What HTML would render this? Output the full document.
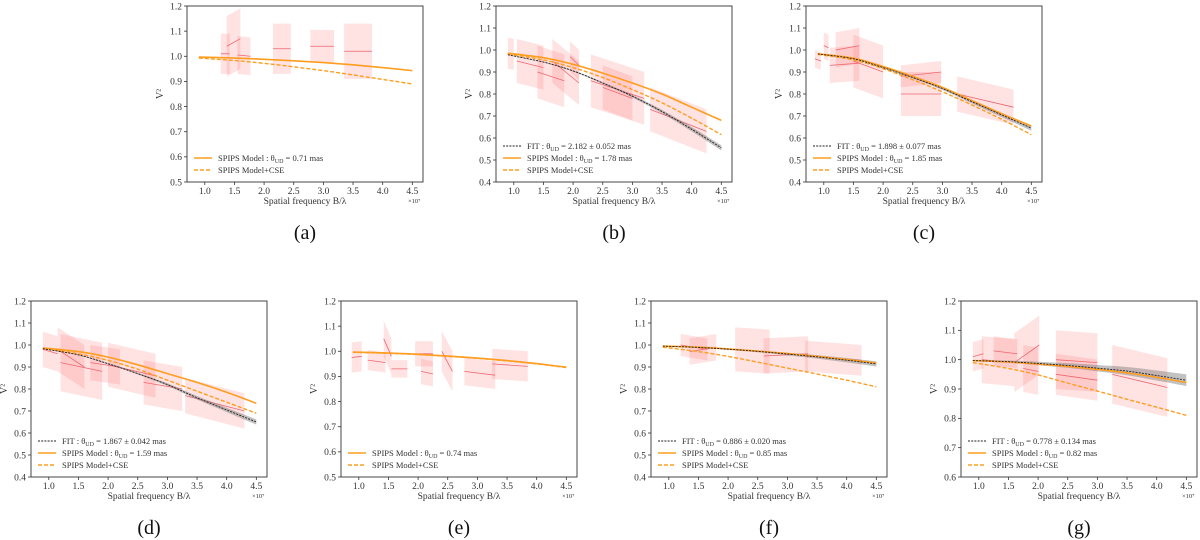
<!DOCTYPE html>
<html><head><meta charset="utf-8"><style>
html,body{margin:0;padding:0;background:#fff;}
svg{display:block;font-family:"Liberation Serif",serif;}
</style></head><body>
<svg id="fig" width="1200" height="540" viewBox="0 0 1200 540" xmlns="http://www.w3.org/2000/svg"></svg>
<script>
const xGrid=[0.9,1.5,2.0,2.5,3.0,3.5,4.0,4.5];
const xTicks=[1.0,1.5,2.0,2.5,3.0,3.5,4.0,4.5];
const panelLetters=["a","b","c","d","e","f","g"];
const yMins=[0.5,0.4,0.4,0.4,0.5,0.4,0.6];
const modelA=[0.997,0.993,0.988,0.982,0.975,0.966,0.955,0.943];
const cseA=[0.993,0.983,0.972,0.958,0.943,0.926,0.908,0.890];
const modelB=[0.985,0.965,0.935,0.895,0.85,0.80,0.74,0.68];
const cseB=[0.982,0.955,0.92,0.875,0.82,0.76,0.69,0.615];
const fitB=[0.978,0.945,0.905,0.85,0.79,0.72,0.64,0.555];
const modelC=[0.983,0.963,0.925,0.88,0.83,0.77,0.71,0.655];
const cseC=[0.98,0.955,0.915,0.865,0.81,0.75,0.685,0.615];
const fitC=[0.982,0.96,0.92,0.875,0.825,0.765,0.705,0.645];
const modelD=[0.987,0.97,0.945,0.91,0.87,0.83,0.785,0.735];
const cseD=[0.985,0.96,0.93,0.89,0.84,0.79,0.74,0.69];
const fitD=[0.983,0.955,0.915,0.87,0.82,0.76,0.705,0.65];
const modelE=[0.997,0.993,0.988,0.981,0.973,0.963,0.951,0.937];
const cseE=[0.996,0.992,0.987,0.980,0.972,0.962,0.950,0.935];
const modelF=[0.995,0.99,0.982,0.972,0.961,0.948,0.934,0.918];
const cseF=[0.99,0.97,0.948,0.922,0.895,0.868,0.84,0.81];
const fitF=[0.995,0.989,0.981,0.971,0.959,0.946,0.931,0.914];
const modelG=[0.997,0.992,0.985,0.977,0.967,0.955,0.94,0.922];
const cseG=[0.99,0.97,0.948,0.92,0.893,0.865,0.838,0.81];
const fitG=[0.997,0.993,0.987,0.98,0.971,0.961,0.946,0.93];
const fitErrG=[0.002,0.004,0.006,0.008,0.011,0.014,0.017,0.02];
const fitErrSmall=[0.001,0.002,0.003,0.004,0.006,0.008,0.010,0.012];
// segments: [x0,x1,v0,v1,halfErr]
const obsA=[[1.27,1.42,1.01,1.01,0.08],[1.37,1.6,1.04,1.07,0.12],[1.55,1.77,1.005,1.0,0.075],[2.15,2.45,1.03,1.03,0.1],[2.78,3.18,1.04,1.04,0.065],[3.35,3.82,1.02,1.02,0.11]];
const obsB=[[0.9,1.0,0.985,0.98,0.07],[1.05,1.5,0.95,0.92,0.1],[1.4,1.85,0.9,0.86,0.12],[1.65,2.1,0.95,0.85,0.1],[1.95,2.1,0.97,0.93,0.07],[2.3,3.2,0.86,0.78,0.12],[2.5,3.0,0.83,0.78,0.1],[3.3,4.25,0.73,0.63,0.1]];
const obsC=[[0.85,0.95,0.96,0.95,0.04],[1.0,1.08,1.02,1.01,0.06],[1.1,1.6,0.93,0.94,0.08],[1.2,1.6,1.0,1.02,0.08],[1.5,2.0,0.95,0.9,0.12],[2.3,2.98,0.88,0.9,0.05],[2.3,2.98,0.8,0.8,0.1],[3.25,4.2,0.8,0.74,0.08]];
const obsD=[[0.9,1.15,0.98,0.96,0.08],[1.15,1.6,0.98,0.9,0.1],[1.2,1.9,0.92,0.88,0.13],[1.7,2.2,0.92,0.9,0.08],[2.0,2.8,0.91,0.86,0.1],[2.6,3.25,0.83,0.8,0.1],[3.3,4.3,0.77,0.7,0.08]];
const obsE=[[0.88,1.05,0.975,0.98,0.06],[1.15,1.45,0.965,0.955,0.04],[1.42,1.55,1.05,0.98,0.07],[1.55,1.82,0.93,0.93,0.035],[1.95,2.25,0.99,0.99,0.05],[2.05,2.25,0.92,0.91,0.05],[2.4,2.58,1.0,0.92,0.08],[2.78,3.3,0.92,0.905,0.055],[3.25,3.85,0.95,0.94,0.06]];
const obsF=[[1.2,1.65,1.0,0.98,0.05],[1.35,1.8,0.97,0.99,0.06],[2.12,2.7,0.98,0.97,0.1],[2.6,3.35,0.95,0.96,0.08],[3.3,4.25,0.95,0.93,0.07]];
const obsG=[[0.9,1.08,1.01,1.02,0.05],[1.05,1.6,1.0,0.99,0.08],[1.25,1.65,1.03,1.02,0.05],[1.6,2.02,0.99,1.05,0.1],[1.75,2.0,0.97,0.96,0.08],[2.3,3.0,1.0,0.99,0.1],[2.3,3.0,0.95,0.93,0.07],[3.25,4.18,0.95,0.905,0.1]];
const fitLabels=[null,"2.182 ± 0.052","1.898 ± 0.077","1.867 ± 0.042",null,"0.886 ± 0.020","0.778 ± 0.134"];
const modelLabels=["0.71","1.78","1.85","1.59","0.74","0.85","0.82"];

const boxes=[[187,6],[496,6],[806,6],[31,301],[341,301],[651,301],[961,301]];
const W=236,H=176;
const panels=[
 {m:modelA,c:cseA,f:null,fe:null,o:obsA},
 {m:modelB,c:cseB,f:fitB,fe:fitErrSmall,o:obsB},
 {m:modelC,c:cseC,f:fitC,fe:fitErrSmall,o:obsC},
 {m:modelD,c:cseD,f:fitD,fe:fitErrSmall,o:obsD},
 {m:modelE,c:cseE,f:null,fe:null,o:obsE},
 {m:modelF,c:cseF,f:fitF,fe:fitErrSmall,o:obsF},
 {m:modelG,c:cseG,f:fitG,fe:fitErrG,o:obsG}];
const NS="http://www.w3.org/2000/svg";
const svg=document.getElementById('fig');
function mk(tag,attrs,parent,txt){const e=document.createElementNS(NS,tag);for(const k in attrs)e.setAttribute(k,attrs[k]);if(txt!==undefined)e.textContent=txt;parent.appendChild(e);return e;}
function smooth(pts){
 let d='M'+pts[0][0]+','+pts[0][1];
 for(let i=0;i<pts.length-1;i++){
  const p0=pts[Math.max(i-1,0)],p1=pts[i],p2=pts[i+1],p3=pts[Math.min(i+2,pts.length-1)];
  const c1=[p1[0]+(p2[0]-p0[0])/6,p1[1]+(p2[1]-p0[1])/6];
  const c2=[p2[0]-(p3[0]-p1[0])/6,p2[1]-(p3[1]-p1[1])/6];
  d+=` C${c1[0]},${c1[1]} ${c2[0]},${c2[1]} ${p2[0]},${p2[1]}`;
 }
 return d;
}
panels.forEach((p,i)=>{
 const [L,T]=boxes[i];const ymin=yMins[i],ymax=1.2;
 const sx=v=>L+(v-0.7)/(4.68-0.7)*W;
 const sy=v=>T+H-(v-ymin)/(ymax-ymin)*H;
 const g=mk('g',{},svg);
 
 
 const clipId='clip'+i;
 const cp=mk('clipPath',{id:clipId},g);mk('rect',{x:L,y:T,width:W,height:H},cp);
 const plot=mk('g',{'clip-path':'url(#'+clipId+')'},g);
 p.o.forEach(s=>{
  const [x0,x1,v0,v1,e]=s;
  const band=mk('polygon',{points:`${sx(x0)},${sy(v0+e)} ${sx(x1)},${sy(v1+e)} ${sx(x1)},${sy(v1-e)} ${sx(x0)},${sy(v0-e)}`,fill:'rgba(255,110,110,0.2)'},plot);
  
  
  const ln=mk('line',{x1:sx(x0),y1:sy(v0),x2:sx(x1),y2:sy(v1),stroke:'#ee6670','stroke-width':0.8},plot);
  
  
 });
 const path=arr=>smooth(arr.map((v,k)=>[sx(xGrid[k]),sy(v)]));
 if(p.f){
  const up=smooth(p.f.map((v,k)=>[sx(xGrid[k]),sy(v+p.fe[k])]));
  const dnPts=p.f.map((v,k)=>[sx(xGrid[k]),sy(v-p.fe[k])]).reverse();
  const dn=smooth(dnPts).replace(/^M/,'L');
  const fb=mk('path',{d:up+' '+dn+' Z',fill:'rgba(120,120,120,0.45)'},plot);
  
  
 }
 const ms=mk('path',{d:path(p.m),fill:'none',stroke:'#ff9d1f','stroke-width':1.6},plot);
 
 
 const cs=mk('path',{d:path(p.c),fill:'none',stroke:'#ff9d1f','stroke-width':1.4,'stroke-dasharray':'4,2'},plot);
 
 
 if(p.f){
  const fl=mk('path',{d:path(p.f),fill:'none',stroke:'#222','stroke-width':0.9,'stroke-dasharray':'2,1.2'},plot);
  
  
 }
 const fr=mk('rect',{x:L,y:T,width:W,height:H,fill:'none',stroke:'#333','stroke-width':0.9},g);
 
 
 xTicks.forEach(t=>{
  mk('line',{x1:sx(t),x2:sx(t),y1:T+H,y2:T+H+3,stroke:'#333','stroke-width':0.8},g);
  const tl=mk('text',{x:sx(t),y:T+H+12,'font-size':9.5,'text-anchor':'middle',fill:'#333'},g,t.toFixed(1));
  
  
 });
 for(let v=ymin;v<=1.2001;v+=0.1){
  mk('line',{x1:L-3,x2:L,y1:sy(v),y2:sy(v),stroke:'#333','stroke-width':0.8},g);
  const yl=mk('text',{x:L-5,y:sy(v)+3.3,'font-size':9.5,'text-anchor':'end',fill:'#333'},g,v.toFixed(1));
  
  
 }
 const xe=mk('text',{x:L+W-15,y:T+H+21,'font-size':6.5,fill:'#333'},g,'×10⁷');
 
 
 const xt=mk('text',{x:L+W/2,y:T+H+22,'font-size':9.5,'text-anchor':'middle',fill:'#333'},g,'Spatial frequency B/λ');
 
 
 const yt=mk('text',{x:L-24,y:T+H/2,'font-size':10,'text-anchor':'middle',fill:'#333',transform:`rotate(-90 ${L-24} ${T+H/2})`},g,'V²');
 
 
 const entries=[];
 if(fitLabels[i])entries.push(['fit','FIT : θ','UD',' = '+fitLabels[i]+' mas']);
 entries.push(['model','SPIPS Model : θ','UD',' = '+modelLabels[i]+' mas']);
 entries.push(['cse','SPIPS Model+CSE','','']);
 const n=entries.length;
 entries.forEach((e,k)=>{
  const y=T+H-12-12*(n-1-k);
  const lg=mk('g',{},g);
  
  
  const a={x1:L+7,x2:L+25,y1:y,y2:y};
  if(e[0]==='fit')mk('line',Object.assign(a,{stroke:'#222','stroke-width':0.9,'stroke-dasharray':'2,1.2'}),lg);
  else if(e[0]==='model')mk('line',Object.assign(a,{stroke:'#ff9d1f','stroke-width':1.6}),lg);
  else mk('line',Object.assign(a,{stroke:'#ff9d1f','stroke-width':1.4,'stroke-dasharray':'4,2'}),lg);
  const t=mk('text',{x:L+31,y:y+3,'font-size':8.5,fill:'#333'},lg);
  mk('tspan',{},t,e[1]);
  if(e[2])mk('tspan',{'font-size':6,dy:2},t,e[2]);
  if(e[3])mk('tspan',{dy:-2},t,e[3]);
 });
 const cap=mk('text',{x:L+W/2,y:T+H+57,'font-size':20,'text-anchor':'middle',fill:'#111'},g,'('+panelLetters[i]+')');
 
 
});
</script>
</body></html>
